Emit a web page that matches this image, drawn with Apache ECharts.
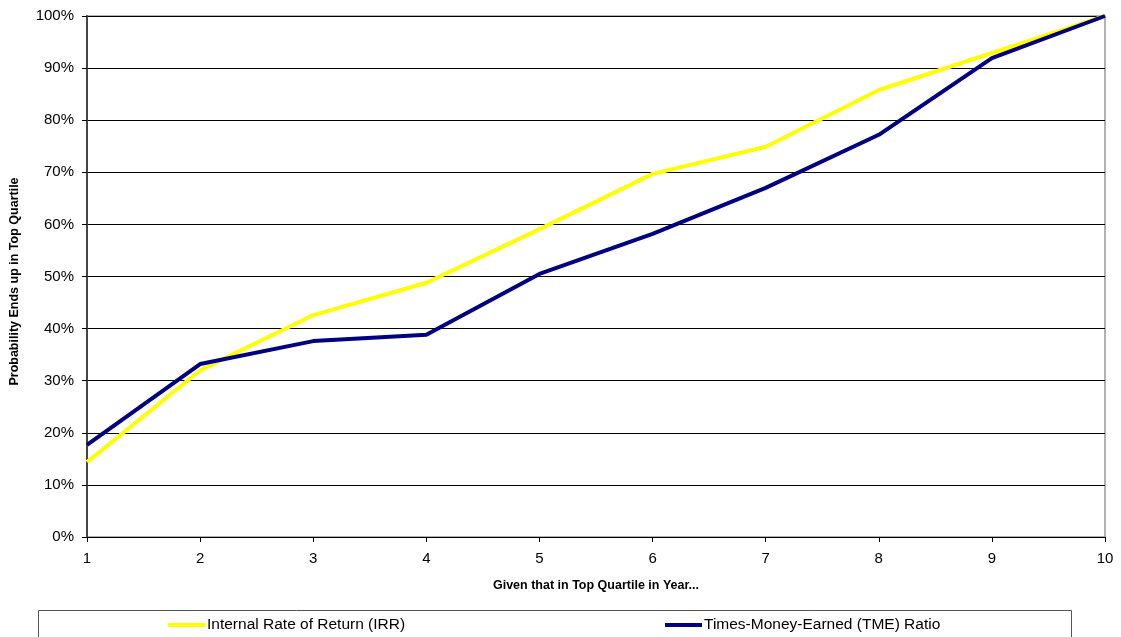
<!DOCTYPE html>
<html><head><meta charset="utf-8">
<script src="https://cdn.jsdelivr.net/npm/echarts@6/dist/echarts.min.js"></script>
<style>html,body{margin:0;padding:0;background:#fff}#c{width:1121px;height:637px}</style>
</head><body><div id="c"></div>
<script>
const years = ['1','2','3','4','5','6','7','8','9','10'];
const irr = [14.4, 32.0, 42.6, 48.8, 59.1, 69.7, 74.9, 85.8, 92.9, 100];
const tme = [17.7, 33.2, 37.6, 38.8, 50.5, 58.2, 67.0, 77.2, 91.9, 100];
const seriesNames = ['Internal Rate of Return (IRR)', 'Times-Money-Earned (TME) Ratio'];

const chart = echarts.init(document.getElementById('c'), null, {renderer:'canvas'});
const font = 'Liberation Sans, Arial, sans-serif';
chart.setOption({
  animation:false,
  textStyle:{fontFamily:font},
  grid:{left:87,right:16,top:16,bottom:100,show:true,borderColor:'#999',borderWidth:1.5},
  xAxis:{type:'category',data:years,boundaryGap:false,
    name:'Given that in Top Quartile in Year...',nameLocation:'middle',nameGap:42,
    nameTextStyle:{fontSize:12.5,fontWeight:'bold',color:'#000',fontFamily:font},
    axisLine:{lineStyle:{color:'#000',width:1}},
    axisTick:{show:true,length:5,lineStyle:{color:'#000'}},
    axisLabel:{fontSize:15,color:'#000',margin:14,fontFamily:font},
    splitLine:{show:false}},
  yAxis:{type:'value',min:0,max:100,interval:10,
    name:'Probability Ends up in Top Quartile',nameLocation:'middle',nameGap:66,
    nameTextStyle:{fontSize:12.5,fontWeight:'bold',color:'#000',fontFamily:font,padding:[0,10,0,0]},
    axisLine:{show:true,lineStyle:{color:'#444',width:2}},
    axisTick:{show:true,length:5,lineStyle:{color:'#000'}},
    axisLabel:{fontSize:15,color:'#000',margin:13,formatter:'{value}%',fontFamily:font},
    splitLine:{lineStyle:{color:'#000',width:1}}},
  legend:[
    {data:[seriesNames[0]],left:168,top:617,padding:0,icon:'rect',itemWidth:37,itemHeight:4,
     textStyle:{fontSize:15.5,color:'#000',fontFamily:font,padding:[0,0,0,-3]}},
    {data:[seriesNames[1]],left:665,top:617,padding:0,icon:'rect',itemWidth:37,itemHeight:4,
     textStyle:{fontSize:15.5,color:'#000',fontFamily:font,padding:[0,0,0,-3]}}
  ],
  graphic:[{type:'rect',shape:{x:38.5,y:610.5,width:1033,height:40},style:{fill:'none',stroke:'#555',lineWidth:1},z:-1}],
  series:[
    {name:seriesNames[0],type:'line',data:irr,symbol:'none',lineStyle:{color:'#ffff00',width:4},itemStyle:{color:'#ffff00'},z:2},
    {name:seriesNames[1],type:'line',data:tme,symbol:'none',lineStyle:{color:'#000080',width:4},itemStyle:{color:'#000080'},z:3}
  ]
});
</script></body></html>
